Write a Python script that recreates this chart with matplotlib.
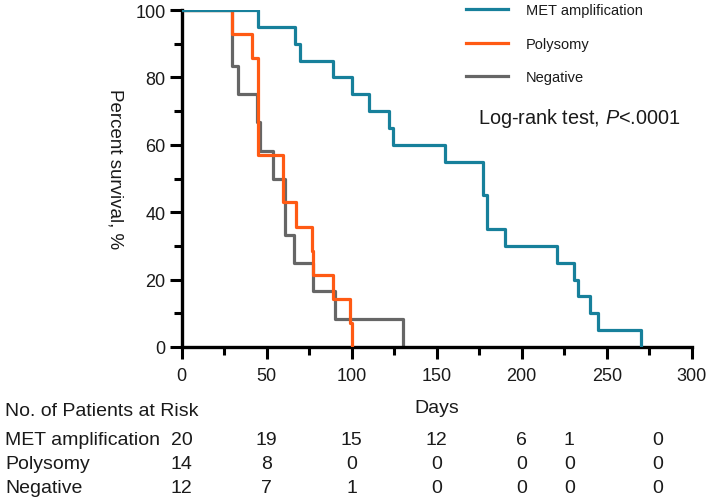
import matplotlib
matplotlib.use('Agg')
import matplotlib.pyplot as plt
from matplotlib.ticker import MultipleLocator

# ---------- data -----------------------------------------------------------
met_t = [0, 45, 66.5, 69.5, 89, 100, 110, 122, 124, 155, 177, 179.5, 190, 221, 230.5, 233, 240, 245, 270]
met_s = [100, 95, 90, 85, 80, 75, 70, 65, 60, 55, 45, 35, 30, 25, 20, 15, 10, 5, 0]

pol_t = [0, 29.4, 41.2, 44.7, 59.8, 67.2, 76.5, 77.5, 88.8, 99, 100]
pol_s = [100, 92.9, 85.7, 57.1, 42.9, 35.7, 28.6, 21.4, 14.3, 7.1, 0]

neg_t = [0, 29.4, 32.9, 44, 46, 53.9, 60.5, 66, 77.5, 90, 130]
neg_s = [100, 83.3, 75, 66.7, 58.3, 50, 33.3, 25, 16.7, 8.3, 0]

groups = ['MET amplification', 'Polysomy', 'Negative']
risk_days = [0, 50, 100, 150, 200, 228, 280]
risk_met = [20, 19, 15, 12, 6, 1, 0]
risk_pol = [14, 8, 0, 0, 0, 0, 0]
risk_neg = [12, 7, 1, 0, 0, 0, 0]

# ---------- style -----------------------------------------------------------
plt.rcParams['font.family'] = ['Liberation Sans', 'DejaVu Sans']
plt.rcParams['mathtext.fontset'] = 'custom'
plt.rcParams['mathtext.rm'] = 'Liberation Sans'
plt.rcParams['mathtext.it'] = 'Liberation Sans:italic'
txt = '#1a1a1a'
col_met = '#17809b'
col_pol = '#ff5a14'
col_neg = '#666666'

W, H = 711, 502
fig = plt.figure(figsize=(W / 100, H / 100), dpi=100)
ax = fig.add_axes([181.7 / W, 1 - 348 / H, 510 / W, 337 / H])

# ---------- survival curves --------------------------------------------------
ax.step(neg_t, neg_s, where='post', color=col_neg, lw=2.3, label=groups[2], zorder=2)
ax.step(pol_t, pol_s, where='post', color=col_pol, lw=2.3, label=groups[1], zorder=3)
ax.step(met_t, met_s, where='post', color=col_met, lw=2.3, label=groups[0], zorder=4)

ax.set_xlim(0, 300)
ax.set_ylim(0, 100)
for s in ['top', 'right']:
    ax.spines[s].set_visible(False)
for s in ['left', 'bottom']:
    ax.spines[s].set_linewidth(2.4)
    ax.spines[s].set_color('black')

ax.xaxis.set_major_locator(MultipleLocator(50))
ax.xaxis.set_minor_locator(MultipleLocator(25))
ax.yaxis.set_major_locator(MultipleLocator(20))
ax.yaxis.set_minor_locator(MultipleLocator(10))
ax.tick_params(which='major', length=8.5, width=2.2, labelsize=13, colors='black', labelcolor=txt)
ax.tick_params(which='minor', length=5.5, width=2.2, colors='black')
ax.tick_params(axis='x', which='major', pad=6)
ax.tick_params(axis='y', which='major', pad=3)

ax.set_ylabel('Percent survival, %', fontsize=13.5, color=txt, rotation=-90, va='center')
ax.yaxis.set_label_coords(-0.13, 0.53)
ax.set_xlabel('Days', fontsize=14, color=txt, labelpad=11)

# ---------- legend and test result -------------------------------------------
h, l = ax.get_legend_handles_labels()
order = [2, 1, 0]
leg = ax.legend([h[i] for i in order], [l[i] for i in order], frameon=False,
                loc='upper left', bbox_to_anchor=(466 / W, 1 - 4 / H),
                bbox_transform=fig.transFigure, borderaxespad=0, borderpad=0,
                fontsize=10.5, handlelength=2.9, handletextpad=1.2, labelspacing=1.35)
for t in leg.get_texts():
    t.set_color(txt)

fig.text(478 / W, 1 - 118 / H, 'Log-rank test, $\\mathit{P}$<.0001', fontsize=14.3,
         color=txt, ha='left', va='center')

# ---------- number at risk table ---------------------------------------------
fig.text(5 / W, 1 - 412 / H, 'No. of Patients at Risk', fontsize=14, color=txt,
         ha='left', va='center')
rows = [risk_met, risk_pol, risk_neg]
row_y = [441, 465, 489]
for name, vals, yp in zip(groups, rows, row_y):
    fig.text(5 / W, 1 - yp / H, name, fontsize=14, color=txt, ha='left', va='center')
    for d, v in zip(risk_days, vals):
        xf = fig.transFigure.inverted().transform(ax.transData.transform((d, 0)))[0]
        fig.text(xf, 1 - yp / H, str(v), fontsize=14, color=txt, ha='center', va='center')

fig.savefig('out.png', dpi=100)
